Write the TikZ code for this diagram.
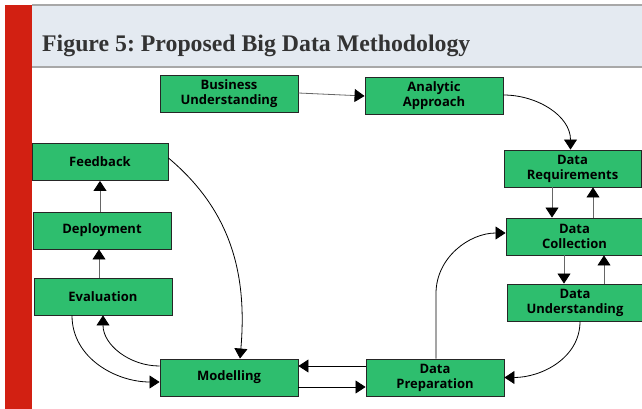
\documentclass[tikz,border=0pt]{standalone}
\usepackage{fontspec}
\setmainfont{Liberation Serif}
\newfontfamily\boxfont{Open Sans}
\usepackage{tikz}
\usetikzlibrary{positioning, arrows.meta}

\definecolor{boxgreen}{RGB}{46,190,110}
\definecolor{headfill}{RGB}{228,234,241}
\definecolor{headline}{RGB}{168,168,168}
\definecolor{barred}{RGB}{210,32,18}
\definecolor{titlegray}{RGB}{51,51,51}

\begin{document}
\frenchspacing
\begin{tikzpicture}[x=1pt, y=-1pt,
  box/.style={draw=black!85, fill=boxgreen, line width=0.9pt, minimum width=138pt,
    minimum height=37pt, inner sep=0pt, align=center,
    font=\boxfont\bfseries\fontsize{13}{15}\selectfont},
  arr/.style={-{Triangle[width=13pt,length=10pt,color=black]}, line width=0.8pt},
  gline/.style={arr, draw=black!60}]
  \useasboundingbox (0,0) rectangle (642,409);
  % frame
  \fill[barred] (5,5) rectangle (32,409);
  \fill[headfill] (32,5) rectangle (642,67);
  \draw[headline, line width=2pt] (32,5) -- (642,5);
  \draw[headline, line width=2pt] (32,67) -- (642,67);
  \node[anchor=base west, text=titlegray, inner sep=0pt, font=\bfseries\fontsize{23.8}{26}\selectfont] (title) at (42,52) {Figure 5: Proposed Big Data Methodology};

  \node[box] (bu) at (229,94)    {Business\\Understanding};
  \node[box] (aa) at (434,96)    {Analytic\\Approach};
  \node[box, minimum width=137pt] (dr) at (572.5,168.5) {Data\\Requirements};
  \node[box, minimum width=137pt] (dc) at (574.5,236.5) {Data\\Collection};
  \node[box, minimum width=136pt] (du) at (575,302.5)   {Data\\Understanding};
  \node[box] (dp) at (435,377.5) {Data\\Preparation};
  \node[box] (mo) at (229,377.5) {Modelling};
  \node[box] (ev) at (103,296.5) {Evaluation};
  \node[box] (de) at (102,230.5) {Deployment};
  \node[box, minimum width=136pt] (fb) at (100,162) {Feedback};

  \draw[gline] ([yshift=1pt]bu.east) -- (aa.west);
  \draw[arr] ([yshift=1pt]aa.east) to[out=0, in=90] ([xshift=-2pt]dr.north);
  \draw[gline] ([xshift=-20.5pt]dr.south) -- ([xshift=-20.5pt]dr.south |- dc.north);
  \draw[gline] ([xshift=18.5pt]dc.north) -- ([xshift=18.5pt]dc.north |- dr.south);
  \draw[gline] ([xshift=-10.5pt]dc.south) -- ([xshift=-10.5pt]dc.south |- du.north);
  \draw[gline] ([xshift=29pt]du.north) -- ([xshift=29pt]du.north |- dc.south);
  \draw[arr] ([xshift=5pt]du.south) to[out=-90, in=0] (dp.east);
  \draw[arr] ([xshift=1pt]dp.north) -- ++(0,-65) to[out=90, in=180] ([yshift=3.5pt]dc.west);
  \draw[arr] ([yshift=11.5pt]dp.west) -- ([yshift=11.5pt]mo.east);
  \draw[arr] ([yshift=-9.5pt]mo.east) -- ([yshift=-9.5pt]dp.west);
  \draw[arr] ([yshift=11.5pt]mo.west) to[out=180, in=-90] (ev.south);
  \draw[arr] ([xshift=-31pt]ev.south) to[out=-90, in=180] ([yshift=-4.5pt]mo.west);
  \draw[gline] ([xshift=-4pt]ev.north) -- ([xshift=-4pt]ev.north |- de.south);
  \draw[gline] ([xshift=-2pt]de.north) -- ([xshift=-2pt]de.north |- fb.south);
  \draw[arr] ([yshift=4pt]fb.east) to[out=-40, in=85] ([xshift=11pt]mo.north);
\end{tikzpicture}
\end{document}
